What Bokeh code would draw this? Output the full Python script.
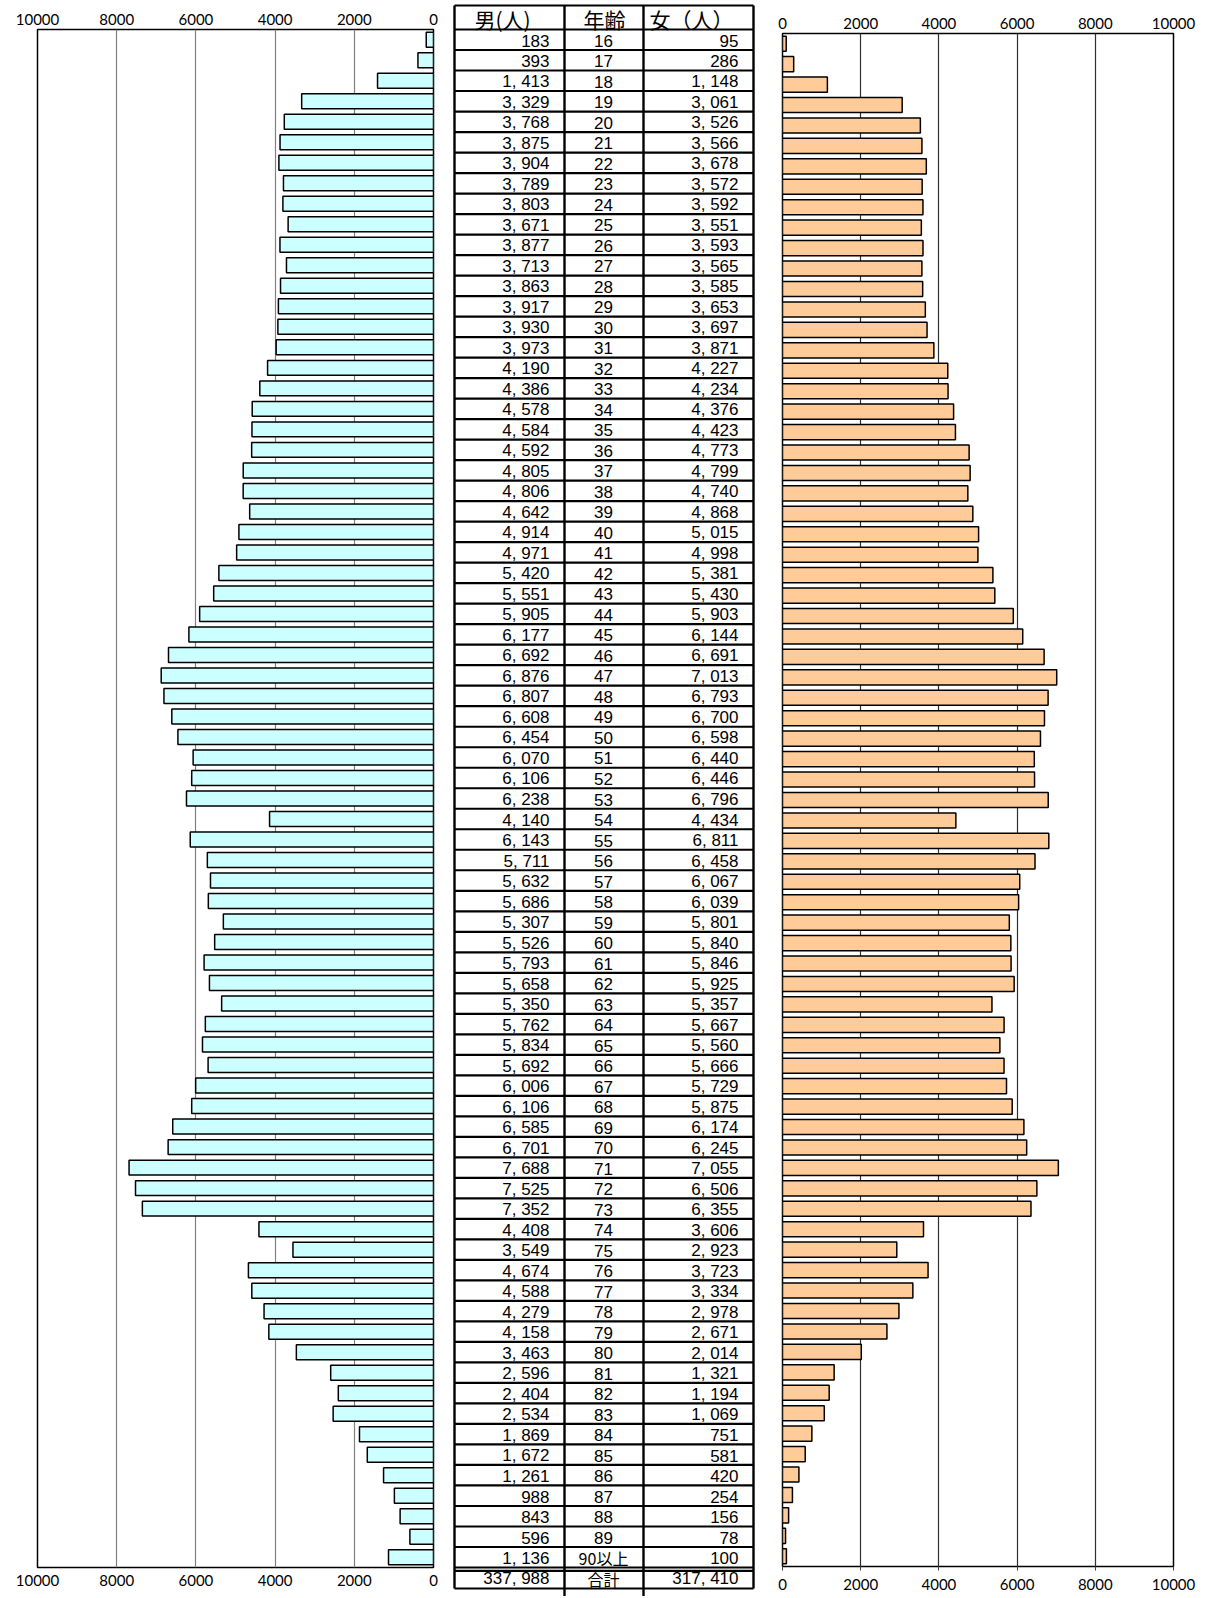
from bokeh.plotting import figure
from bokeh.layouts import row
from bokeh.models import Range1d, LinearAxis, FixedTicker
from bokeh.core.properties import value
from bokeh.embed import file_html
from bokeh.resources import INLINE

# ---------------- data ----------------
ages = [str(a) for a in range(16, 90)] + ["90以上"]
male = [183, 393, 1413, 3329, 3768, 3875, 3904, 3789, 3803, 3671,
        3877, 3713, 3863, 3917, 3930, 3973, 4190, 4386, 4578, 4584,
        4592, 4805, 4806, 4642, 4914, 4971, 5420, 5551, 5905, 6177,
        6692, 6876, 6807, 6608, 6454, 6070, 6106, 6238, 4140, 6143,
        5711, 5632, 5686, 5307, 5526, 5793, 5658, 5350, 5762, 5834,
        5692, 6006, 6106, 6585, 6701, 7688, 7525, 7352, 4408, 3549,
        4674, 4588, 4279, 4158, 3463, 2596, 2404, 2534, 1869, 1672,
        1261, 988, 843, 596, 1136]
female = [95, 286, 1148, 3061, 3526, 3566, 3678, 3572, 3592, 3551,
          3593, 3565, 3585, 3653, 3697, 3871, 4227, 4234, 4376, 4423,
          4773, 4799, 4740, 4868, 5015, 4998, 5381, 5430, 5903, 6144,
          6691, 7013, 6793, 6700, 6598, 6440, 6446, 6796, 4434, 6811,
          6458, 6067, 6039, 5801, 5840, 5846, 5925, 5357, 5667, 5560,
          5666, 5729, 5875, 6174, 6245, 7055, 6506, 6355, 3606, 2923,
          3723, 3334, 2978, 2671, 2014, 1321, 1194, 1069, 751, 581,
          420, 254, 156, 78, 100]
total_label = "合計"
male_total = 337988
female_total = 317410
header = ["男(人)", "年齢", "女（人）"]
ticks = [0, 2000, 4000, 6000, 8000, 10000]

n = len(ages)
idx = list(range(n))


def fmt(v):
    return f"{v:,}".replace(",", ", ")


H = 1596
AX_FONT = "Lato"
NUM_FONT = "Liberation Sans"
JP_FONT = "Noto Sans CJK JP"

# ---------------- left (male) ----------------
left = figure(width=444, height=H, x_range=Range1d(10000, 0),
              y_range=Range1d(n - 0.5, -0.5), output_backend="svg",
              toolbar_location=None, x_axis_location="above", y_axis_type=None,
              min_border_left=37, min_border_right=11, min_border_top=29,
              min_border_bottom=29, frame_align=False)
left.add_layout(LinearAxis(), "below")
left.hbar(y=idx, left=0, right=male, height=0.73, fill_color="#CCFFFF",
          line_color="black", line_width=1.5)
left.xgrid.ticker = FixedTicker(ticks=ticks)
left.xgrid.grid_line_color = "#808080"
left.xgrid.grid_line_width = 1.2
left.ygrid.visible = False
for ax in left.xaxis:
    ax.ticker = FixedTicker(ticks=ticks)
    ax.axis_line_color = None
    ax.major_tick_line_color = None
    ax.minor_tick_line_color = None
    ax.major_tick_out = 0
    ax.major_tick_in = 0
    ax.major_label_text_font = AX_FONT
    ax.major_label_text_font_size = "15px"
    ax.major_label_text_color = "black"
left.xaxis[0].major_label_standoff = 5
left.xaxis[1].major_label_standoff = 7
left.outline_line_color = "black"
left.outline_line_width = 1.5
left.outline_line_alpha = 1

# ---------------- table ----------------
ROW_PX = 1538 / n          # same row pitch as the left chart
t_top = -0.5 - 29 / ROW_PX
t_bot = (n - 0.5) + 29 / ROW_PX
tbl = figure(width=326, height=H, x_range=Range1d(444, 770),
             y_range=Range1d(t_bot, t_top), output_backend="svg",
             toolbar_location=None, x_axis_type=None, y_axis_type=None,
             min_border=0, outline_line_color=None, frame_align=False)
tbl.xgrid.visible = False
tbl.ygrid.visible = False

col_x = [454, 564, 643, 753]
head_top = -0.5 - 24 / ROW_PX
tot_y0 = (n - 0.5) + 3.3 / ROW_PX
tot_bot = (n - 0.5) + 21 / ROW_PX
# horizontal lines
hy = [head_top] + [i - 0.5 for i in range(n + 1)] + [tot_y0, tot_bot]
tbl.segment(x0=[col_x[0]] * len(hy), y0=hy, x1=[col_x[-1]] * len(hy), y1=hy,
            line_color="black", line_width=2.2)
# vertical lines (outer ones stop at the table, inner ones run a bit past it)
tbl.segment(x0=[col_x[0], col_x[3]], y0=[head_top] * 2,
            x1=[col_x[0], col_x[3]], y1=[tot_bot] * 2,
            line_color="black", line_width=2.4)
tbl.segment(x0=[col_x[1], col_x[2]], y0=[head_top] * 2,
            x1=[col_x[1], col_x[2]], y1=[t_bot] * 2,
            line_color="black", line_width=2.4)

# header
tbl.text(x=[502, 604, 691], y=[-0.5 - 10.5 / ROW_PX] * 3, text=header,
         text_align="center", text_baseline="middle",
         text_font=value(JP_FONT), text_font_size="21px", text_color="black")

# data rows
tbl.text(x=[549] * n, y=idx, text=[fmt(v) for v in male], text_align="right",
         text_baseline="middle", text_font=value(NUM_FONT),
         text_font_size="17px", text_color="black", y_offset=1)
tbl.text(x=[738] * n, y=idx, text=[fmt(v) for v in female], text_align="right",
         text_baseline="middle", text_font=value(NUM_FONT),
         text_font_size="17px", text_color="black", y_offset=1)
num_ages = [a for a in ages if a.isdigit()]
tbl.text(x=[603] * len(num_ages), y=idx[:len(num_ages)], text=num_ages,
         text_align="center", text_baseline="middle", text_font=value(NUM_FONT),
         text_font_size="17px", text_color="black", y_offset=1)
other_ages = [a for a in ages if not a.isdigit()]
tbl.text(x=[603] * len(other_ages), y=idx[len(num_ages):], text=other_ages,
         text_align="center", text_baseline="middle", text_font=value(JP_FONT),
         text_font_size="16px", text_color="black", y_offset=1)

# totals
tot_y = (n - 0.5) + 11 / ROW_PX
tbl.text(x=[549, 738], y=[tot_y, tot_y], text=[fmt(male_total), fmt(female_total)],
         text_align="right", text_baseline="middle", text_font=value(NUM_FONT),
         text_font_size="17px", text_color="black")
tbl.text(x=[603], y=[tot_y], text=[total_label], text_align="center",
         text_baseline="middle", text_font=value(JP_FONT), text_font_size="16px",
         text_color="black")

# ---------------- right (female) ----------------
right = figure(width=433, height=H, x_range=Range1d(0, 10000),
               y_range=Range1d(n - 0.5, -0.5), output_backend="svg",
               toolbar_location=None, x_axis_location="above", y_axis_type=None,
               min_border_left=12, min_border_right=30, min_border_top=33,
               min_border_bottom=30, frame_align=False)
right.add_layout(LinearAxis(), "below")
right.hbar(y=idx, left=0, right=female, height=0.74, fill_color="#FFCC99",
           line_color="black", line_width=1.5)
right.xgrid.ticker = FixedTicker(ticks=ticks)
right.xgrid.grid_line_color = "#303030"
right.xgrid.grid_line_width = 1.2
right.ygrid.visible = False
for ax in right.xaxis:
    ax.ticker = FixedTicker(ticks=ticks)
    ax.axis_line_color = None
    ax.minor_tick_line_color = None
    ax.major_label_text_font = AX_FONT
    ax.major_label_text_font_size = "15px"
    ax.major_label_text_color = "black"
right.xaxis[0].major_tick_line_color = None
right.xaxis[0].major_tick_out = 0
right.xaxis[0].major_tick_in = 0
right.xaxis[0].major_label_standoff = 5
right.xaxis[1].major_tick_line_color = "#404040"
right.xaxis[1].major_tick_out = 4
right.xaxis[1].major_tick_in = 0
right.xaxis[1].major_label_standoff = 8
right.outline_line_color = "black"
right.outline_line_width = 1.5
right.outline_line_alpha = 1

layout = row(left, tbl, right, spacing=0)
open("out.html", "w").write(file_html(layout, INLINE))
